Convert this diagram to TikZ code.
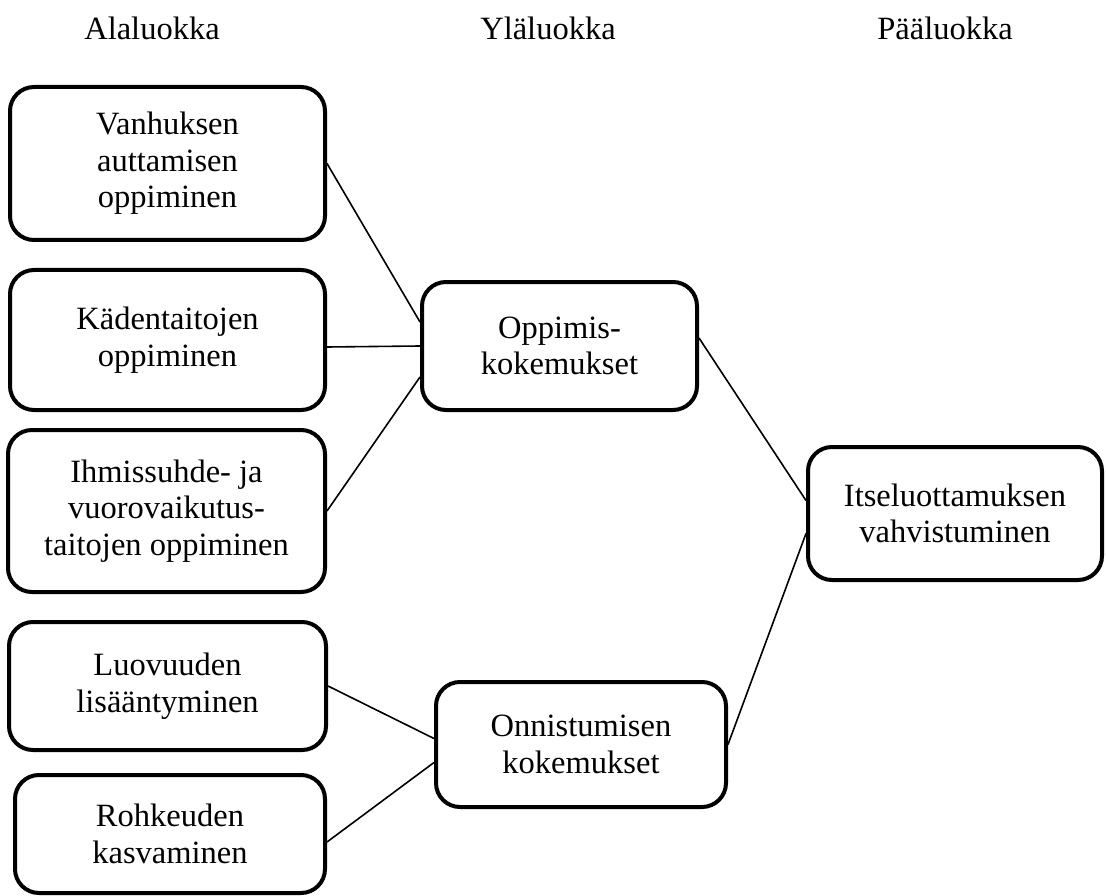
\documentclass[tikz,border=0pt]{standalone}
\usepackage{fontspec}
\setmainfont{Liberation Serif}

\begin{document}
\begin{tikzpicture}[x=1pt,y=-1pt,
    box/.style={draw,line width=4pt,rounded corners=24pt,align=center,inner sep=0pt,
        font=\fontsize{32.5}{36.5}\selectfont},
    head/.style={font=\fontsize{32.5}{36.5}\selectfont},
    link/.style={line width=1.6pt}]

    % white page with the reference's proportions
    \useasboundingbox (0,0) rectangle (1106,896);

    % column headings
    \node[head] (hala) at (152,28) {Alaluokka};
    \node[head] (hyla) at (548,28) {Yläluokka};
    \node[head] (hpaa) at (945,28) {Pääluokka};

    % sub-categories
    \node[box,minimum width=315pt,minimum height=153pt] (vanh) at (167.5,163.5) {Vanhuksen\\auttamisen\\oppiminen};
    \node[box,minimum width=315pt,minimum height=140pt] (kade) at (167.5,340) {Kädentaitojen\\oppiminen};
    \node[box,minimum width=317pt,minimum height=162pt] (ihmi) at (166.5,511) {Ihmissuhde- ja\\vuorovaikutus-\\taitojen oppiminen};
    \node[box,minimum width=317pt,minimum height=128pt] (luov) at (167.5,686) {Luovuuden\\lisääntyminen};
    \node[box,minimum width=310pt,minimum height=118pt] (rohk) at (170,834) {Rohkeuden\\kasvaminen};

    % upper categories
    \node[box,minimum width=275pt,minimum height=128pt] (oppi) at (559.5,346) {Oppimis-\\kokemukset};
    \node[box,minimum width=290pt,minimum height=125pt] (onni) at (581,744.5) {Onnistumisen\\kokemukset};

    % main category
    \node[box,minimum width=294pt,minimum height=133pt] (itse) at (955,513.5) {Itseluottamuksen\\vahvistuminen};

    % connectors
    \draw[link] (vanh.east) -- ([yshift=24pt]oppi.west);
    \draw[link] ([yshift=-7pt]kade.east) -- (oppi.west);
    \draw[link] (ihmi.east) -- ([yshift=-31pt]oppi.west);
    \draw[link] (luov.east) -- ([yshift=6pt]onni.west);
    \draw[link] ([yshift=-8pt]rohk.east) -- ([yshift=-18pt]onni.west);
    \draw[link] ([yshift=8pt]oppi.east) -- ([yshift=13pt]itse.west);
    \draw[link] (onni.east) -- ([yshift=-20pt]itse.west);

\end{tikzpicture}
\end{document}
